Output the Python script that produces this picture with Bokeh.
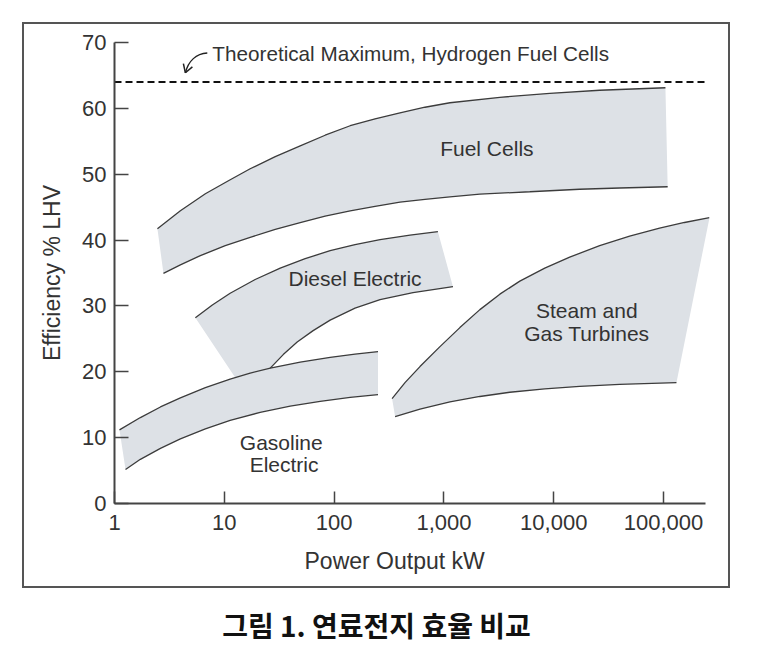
from bokeh.plotting import figure
from bokeh.models import Range1d, FixedTicker, NumeralTickFormatter, Title
from bokeh.layouts import column
from bokeh.embed import file_html
from bokeh.resources import INLINE
from bokeh.core.properties import value

# ---------------- data ----------------
x_ticks = [1, 10, 100, 1000, 10000, 100000]
y_ticks = [0, 10, 20, 30, 40, 50, 60, 70]

theo_max_x = [1, 240000]
theo_max_y = [64, 64]
theo_text = "Theoretical Maximum, Hydrogen Fuel Cells"

# Fuel cells band
fc_upper_x = [2.46, 3.98, 6.72, 10.9, 17.2, 29.1, 49.1, 82.8, 140, 236, 398, 672, 1134,
              3230, 9200, 26200, 104000]
fc_upper_y = [41.73, 44.46, 47.04, 49.01, 50.83, 52.66, 54.29, 55.92, 57.36, 58.42, 59.33,
              60.17, 60.85, 61.68, 62.29, 62.75, 63.13]
fc_lower_x = [2.79, 3.98, 6.05, 10.2, 17.2, 29.1, 49.1, 82.8, 140, 236, 398, 672, 1134,
              2125, 6050, 17200, 39800, 109000]
fc_lower_y = [34.95, 36.24, 37.63, 39.15, 40.41, 41.61, 42.64, 43.63, 44.42, 45.11, 45.75,
              46.18, 46.56, 46.97, 47.34, 47.72, 47.91, 48.1]

# Diesel electric band
de_upper_x = [5.45, 7.78, 11.3, 19.1, 32.3, 54.5, 92, 155, 262, 491, 881]
de_upper_y = [28.22, 30.15, 31.93, 34.01, 35.75, 37.19, 38.38, 39.32, 40.08, 40.76, 41.27]
de_lower_x = [26.2, 34.4, 46.1, 64.4, 92, 155, 262, 523, 1208]
de_lower_y = [20.56, 22.61, 24.51, 26.25, 27.85, 29.67, 30.96, 32.02, 32.93]
de_corner_x = [17.2, 12.6]
de_corner_y = [19.8, 19.1]

# Gasoline electric band
ga_upper_x = [1.11, 1.72, 2.62, 3.98, 6.72, 11.3, 17.2, 26.2, 49.1, 92, 155, 251]
ga_upper_y = [11.18, 13.05, 14.66, 16.05, 17.6, 18.89, 19.8, 20.56, 21.47, 22.2, 22.69, 23.07]
ga_lower_x = [1.26, 1.72, 2.62, 3.98, 6.72, 11.3, 21.2, 39.8, 74.6, 140, 251]
ga_lower_y = [5.16, 6.71, 8.38, 9.8, 11.32, 12.61, 13.84, 14.8, 15.52, 16.12, 16.54]

# Steam and gas turbines band
st_upper_x = [337, 442, 605, 920, 1397, 2125, 3230, 4910, 8280, 13970, 26200, 49100,
              92000, 155000, 262000]
st_upper_y = [15.93, 18.36, 20.79, 23.82, 26.71, 29.44, 31.79, 33.76, 35.74, 37.41, 39.15,
              40.59, 41.81, 42.67, 43.4]
st_lower_x = [359, 605, 1134, 2125, 3980, 8280, 17200, 39800, 131000]
st_lower_y = [13.2, 14.34, 15.43, 16.25, 16.89, 17.42, 17.78, 18.09, 18.35]

region_labels = ["Fuel Cells", "Diesel Electric", "Steam and", "Gas Turbines", "Gasoline", "Electric"]
label_x = [2460, 155, 20000, 20000, 33, 35]
label_y = [53.9, 34.1, 29.3, 25.8, 9.3, 5.9]

theo_text_x = [7.78]
theo_text_y = [68.3]
arrow_tail = (7.0, 68.4)
arrow_c0 = (5.56, 68.3)
arrow_c1 = (4.71, 67.2)
arrow_tip = (4.42, 65.4)
arrow_head_x = [4.24, 5.12]
arrow_head_y = [66.8, 66.3]

x_label = "Power Output kW"
y_label = "Efficiency % LHV"
caption = "그림 1. 연료전지 효율 비교"

# ---------------- styles ----------------
FONT = "Liberation Sans"
FILL = "#dde1e6"
LINE = "#3c3c3c"
TXT = "#333333"

p = figure(width=708, height=566, x_axis_type="log",
           x_range=Range1d(1, 262000), y_range=Range1d(0, 70),
           output_backend="svg", toolbar_location=None,
           min_border_left=90, min_border_right=23,
           min_border_top=18, min_border_bottom=87)
p.margin = (22, 0, 0, 22)
p.styles = {"border": "2px solid #555555"}
p.outline_line_color = None
p.xgrid.visible = False
p.ygrid.visible = False
p.background_fill_color = "white"
p.border_fill_color = "white"

# bands
p.patch(fc_upper_x + fc_lower_x[::-1], fc_upper_y + fc_lower_y[::-1],
        fill_color=FILL, line_color=None)
p.patch(de_upper_x + de_lower_x[::-1] + de_corner_x,
        de_upper_y + de_lower_y[::-1] + de_corner_y,
        fill_color=FILL, line_color=None)
p.patch(ga_upper_x + ga_lower_x[::-1], ga_upper_y + ga_lower_y[::-1],
        fill_color=FILL, line_color=None)
p.patch(st_upper_x + st_lower_x[::-1], st_upper_y + st_lower_y[::-1],
        fill_color=FILL, line_color=None)

for xs, ys in [(fc_upper_x, fc_upper_y), (fc_lower_x, fc_lower_y),
               (de_upper_x, de_upper_y), (de_lower_x, de_lower_y),
               (ga_upper_x, ga_upper_y), (ga_lower_x, ga_lower_y),
               (st_upper_x, st_upper_y), (st_lower_x, st_lower_y)]:
    p.line(xs, ys, line_color=LINE, line_width=1.3)

# theoretical max
p.line(theo_max_x, theo_max_y, line_color="#111111", line_width=2, line_dash="7 4")
p.bezier(x0=[arrow_tail[0]], y0=[arrow_tail[1]], x1=[arrow_tip[0]], y1=[arrow_tip[1]],
         cx0=[arrow_c0[0]], cy0=[arrow_c0[1]], cx1=[arrow_c1[0]], cy1=[arrow_c1[1]],
         line_color="#222222", line_width=1.5)
p.segment(x0=[arrow_tip[0]] * 2, y0=[arrow_tip[1]] * 2, x1=arrow_head_x, y1=arrow_head_y,
          line_color="#222222", line_width=1.5)
p.text(x=theo_text_x, y=theo_text_y, text=[theo_text], text_font=value(FONT),
       text_font_size="20.7px", text_color=TXT, text_align="left", text_baseline="middle")

p.text(x=label_x, y=label_y, text=region_labels, text_font=value(FONT),
       text_font_size="21px", text_color=TXT, text_align="center", text_baseline="middle")

# axes
for ax in (p.xaxis[0], p.yaxis[0]):
    ax.axis_line_color = "#444444"
    ax.axis_line_width = 2
    ax.major_tick_line_color = "#444444"
    ax.major_tick_line_width = 1.5
    ax.major_tick_out = 0
    ax.minor_tick_line_color = None
    ax.major_label_text_font = FONT
    ax.major_label_text_font_size = "22px"
    ax.major_label_text_color = TXT
    ax.axis_label_text_font = FONT
    ax.axis_label_text_font_style = "normal"
    ax.axis_label_text_color = TXT

p.xaxis.ticker = FixedTicker(ticks=x_ticks)
p.xaxis.formatter = NumeralTickFormatter(format="0,0")
p.xaxis.bounds = (1, 240000)
p.xaxis.major_tick_in = 12
p.xaxis.major_label_standoff = 11

# x-axis title, placed below the axis (slightly left of centre as in the source)
xt = Title(text=x_label, align="left", offset=190, text_font=FONT,
           text_font_size="23px", text_font_style="normal", text_color=TXT,
           standoff=27)
p.add_layout(xt, "below")

p.yaxis.ticker = FixedTicker(ticks=y_ticks)
p.yaxis.major_tick_in = 14
p.yaxis.major_label_standoff = 8
p.yaxis.axis_label = y_label
p.yaxis.axis_label_text_font_size = "23px"
p.yaxis.axis_label_standoff = 14

# caption
c = figure(width=773, height=70, x_range=Range1d(0, 773), y_range=Range1d(0, 70),
           x_axis_location=None, y_axis_location=None,
           output_backend="svg", toolbar_location=None, min_border=0)
c.grid.visible = False
c.outline_line_color = None
c.text(x=[335], y=[34], text=[caption], text_font=value("Noto Sans CJK KR"),
       text_font_style="bold", text_font_size="28px", text_color="#111111",
       text_align="center", text_baseline="middle")

layout = column(p, c, spacing=0)
open("out.html", "w").write(file_html(layout, INLINE))
